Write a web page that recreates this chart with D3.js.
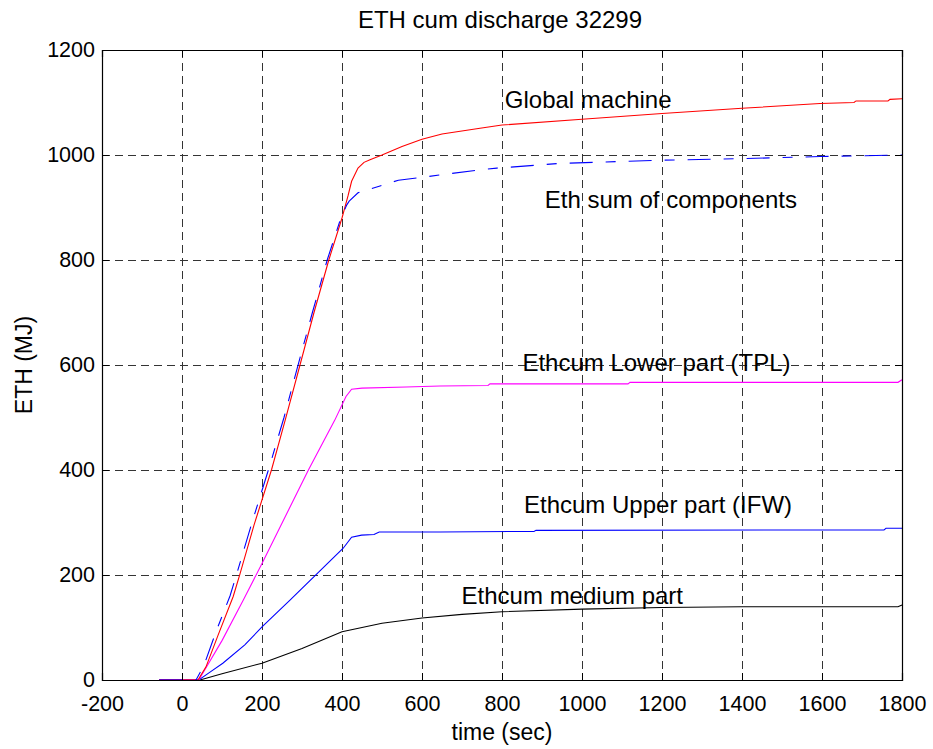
<!DOCTYPE html>
<html>
<head>
<meta charset="utf-8">
<script src="https://cdn.jsdelivr.net/npm/d3@7"></script>
<style>
  body { margin: 0; background: #fff; }
  svg { font-family: "Liberation Sans", Arial, sans-serif; }
</style>
</head>
<body>
<svg id="chart" width="933" height="749"></svg>
<script>
// tick values
const xTicks = [-200, 0, 200, 400, 600, 800, 1000, 1200, 1400, 1600, 1800];
const yTicks = [0, 200, 400, 600, 800, 1000, 1200];

// series: [time (sec), ETH (MJ)]
const globalMachine = [[-57,0],[40,0],[60,25],[90,85],[128,159],[145,202],[180,295],[224,401],[258,495],[295,600],[330,700],[367,800],[400,880],[415,922],[424,950],[440,975],[455,986],[470,991],[500,1000],[550,1016],[600,1030],[650,1040],[745,1051],[800,1057],[1000,1068],[1200,1079],[1400,1089],[1595,1098],[1680,1100],[1685,1103],[1765,1103],[1770,1106],[1800,1107]];
const sumComponents = [[-57,0],[35,0],[55,28],[85,92],[120,160],[138,205],[175,300],[218,405],[255,500],[292,605],[326,700],[363,800],[395,875],[412,905],[418,912],[440,928],[495,941],[541,952],[595,957],[645,962],[737,971],[787,975],[945,984],[1195,990],[1395,993],[1595,997],[1800,1000]];
const lowerPart = [[-57,0],[42,0],[100,75],[153,152],[200,222],[316,400],[382,495],[410,540],[424,554],[450,556],[560,558],[645,560],[765,561],[770,564],[1115,564],[1120,567],[1790,567],[1800,572]];
const upperPart = [[-57,0],[42,0],[70,15],[102,32],[157,67],[200,101],[270,152],[403,251],[424,272],[449,276],[480,277],[493,282],[645,282],[880,283],[885,285],[1755,286],[1760,289],[1800,289]];
const mediumPart = [[-57,0],[45,0],[100,12],[200,32],[300,60],[400,92],[450,100],[500,108],[600,118],[700,125],[800,130],[1000,135],[1200,138],[1400,139.5],[1790,139.5],[1800,143]];

const series = [
  { data: mediumPart, color: "#000000" },
  { data: upperPart, color: "#0000ff" },
  { data: lowerPart, color: "#ff00ff" },
  { data: globalMachine, color: "#ff0000" },
  { data: sumComponents, color: "#0000ff", dash: "23,13,10,13" }
];

const labels = [
  { text: "Global machine", t: 807, v: 1089 },
  { text: "Eth sum of components", t: 907, v: 899 },
  { text: "Ethcum Lower part (TPL)", t: 851, v: 588 },
  { text: "Ethcum Upper part (IFW)", t: 855, v: 319 },
  { text: "Ethcum medium part", t: 699, v: 145 }
];

const svg = d3.select("#chart");
const mLeft = 102, mRight = 902, mTop = 50, mBottom = 680;

const x = d3.scaleLinear().domain([-200, 1800]).range([mLeft, mRight]);
const y = d3.scaleLinear().domain([0, 1200]).range([mBottom, mTop]);
const fmt = d => String(d);

// grid
const grid = svg.append("g").attr("stroke", "#111").attr("stroke-width", 1).attr("stroke-dasharray", "8,5").attr("opacity", 0.85);
xTicks.slice(1, -1).forEach(t => {
  grid.append("line").attr("x1", Math.round(x(t)) + 0.5).attr("x2", Math.round(x(t)) + 0.5).attr("y1", mTop).attr("y2", mBottom);
});
yTicks.slice(1, -1).forEach(v => {
  grid.append("line").attr("y1", Math.round(y(v)) + 0.5).attr("y2", Math.round(y(v)) + 0.5).attr("x1", mLeft).attr("x2", mRight);
});

// lines
const line = d3.line().x(d => x(d[0])).y(d => y(d[1]));
series.forEach(s => {
  svg.append("path").datum(s.data)
    .attr("d", line)
    .attr("fill", "none")
    .attr("stroke", s.color)
    .attr("stroke-width", 1.1)
    .attr("stroke-dasharray", s.dash || null);
});

// axes (ticks inward, on all four sides)
const xAxisB = d3.axisBottom(x).tickValues(xTicks).tickSize(-7).tickPadding(16).tickFormat(fmt);
const xAxisT = d3.axisTop(x).tickValues(xTicks).tickSize(-7).tickFormat("");
const yAxisL = d3.axisLeft(y).tickValues(yTicks).tickSize(-7).tickPadding(7).tickFormat(fmt);
const yAxisR = d3.axisRight(y).tickValues(yTicks).tickSize(-7).tickFormat("");

function styleAxis(g) {
  g.select(".domain").attr("stroke", "#000").attr("stroke-width", 1.2);
  g.selectAll(".tick line").attr("stroke", "#000");
  g.selectAll("text").attr("font-size", 21.5).attr("fill", "#000").attr("font-family", "Liberation Sans, Arial, sans-serif");
}
svg.append("g").attr("transform", `translate(0,${mBottom})`).call(xAxisB).call(styleAxis);
svg.append("g").attr("transform", `translate(0,${mTop})`).call(xAxisT).call(styleAxis);
svg.append("g").attr("transform", `translate(${mLeft},0)`).call(yAxisL).call(styleAxis);
svg.append("g").attr("transform", `translate(${mRight},0)`).call(yAxisR).call(styleAxis);

// annotations
labels.forEach(l => {
  svg.append("text").attr("x", x(l.t)).attr("y", y(l.v))
    .attr("font-size", 24).attr("fill", "#000").text(l.text);
});

svg.append("text").attr("x", 500).attr("y", 28).attr("text-anchor", "middle")
  .attr("font-size", 24).text("ETH cum discharge 32299");
svg.append("text").attr("x", 502).attr("y", 740).attr("text-anchor", "middle")
  .attr("font-size", 23).text("time (sec)");
svg.append("text").attr("transform", "translate(32,365) rotate(-90)").attr("text-anchor", "middle")
  .attr("font-size", 23).text("ETH (MJ)");
</script>
</body>
</html>
